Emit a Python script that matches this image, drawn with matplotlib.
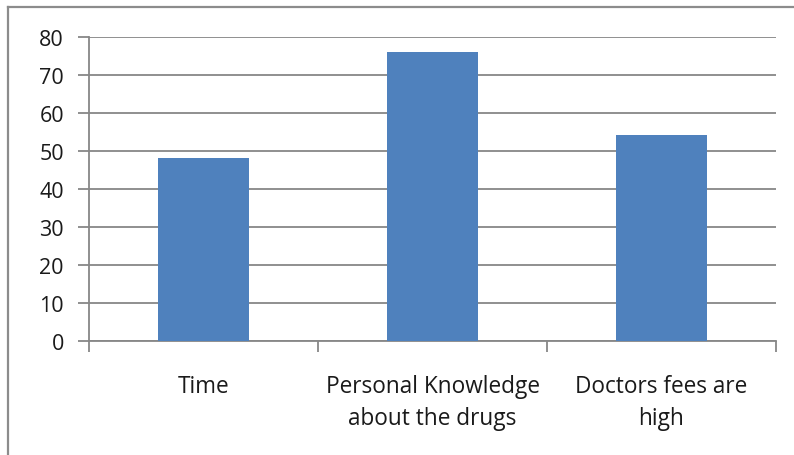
import matplotlib
matplotlib.use("Agg")
import matplotlib.pyplot as plt
from matplotlib.lines import Line2D

# survey reasons and counts
categories = ["Time", "Personal Knowledge\nabout the drugs", "Doctors fees are\nhigh"]
values = [48, 76, 54]
y_ticks = [0, 10, 20, 30, 40, 50, 60, 70, 80]

plt.rcParams['font.family'] = ['Open Sans', 'DejaVu Sans']

W, H = 794, 456
fig = plt.figure(figsize=(W / 100, H / 100), dpi=100)
fig.patch.set_facecolor("white")

# axes placed in pixel terms: x 89..776, y 37..342 (from top)
left, right, top, bottom = 89, 776, 37.5, 342
ax = fig.add_axes([left / W, 1 - bottom / H, (right - left) / W, (bottom - top) / H])

grid_col = "#878787"
x = range(len(categories))
ax.bar(x, values, width=0.4, color="#4F81BD", zorder=3)

ax.set_xlim(-0.5, len(categories) - 0.5)
ax.set_ylim(0, 80)
ax.set_yticks(y_ticks)
ax.yaxis.grid(True, color=grid_col, linewidth=1.3, zorder=0)

for s in ["top", "right"]:
    ax.spines[s].set_visible(False)
for s in ["left", "bottom"]:
    ax.spines[s].set_color(grid_col)
    ax.spines[s].set_linewidth(1.3)

# category boundaries carry the x ticks; labels go on minor ticks
ax.set_xticks([i - 0.5 for i in range(len(categories) + 1)])
ax.set_xticklabels([])
ax.set_xticks(list(x), minor=True)
ax.set_xticklabels(categories, minor=True, fontsize=16.3, color="#1a1a1a",
                   linespacing=1.45, va="top")
ax.tick_params(axis="x", which="major", length=8, width=1.3, color=grid_col)
ax.tick_params(axis="x", which="minor", length=0, pad=24)
ax.tick_params(axis="y", length=8, width=1.3, color=grid_col, labelsize=15.5,
               labelcolor="#1a1a1a", pad=10)

# chart frame: only top and left edges remain visible
fig.add_artist(Line2D([7.5 / W, 7.5 / W], [0, 1 - 8 / H], color="#8c8c8c",
                      linewidth=1.6, transform=fig.transFigure))
fig.add_artist(Line2D([7.5 / W, 1], [1 - 8 / H, 1 - 8 / H], color="#8c8c8c",
                      linewidth=1.6, transform=fig.transFigure))

fig.savefig("out.png", dpi=100, facecolor="white")
